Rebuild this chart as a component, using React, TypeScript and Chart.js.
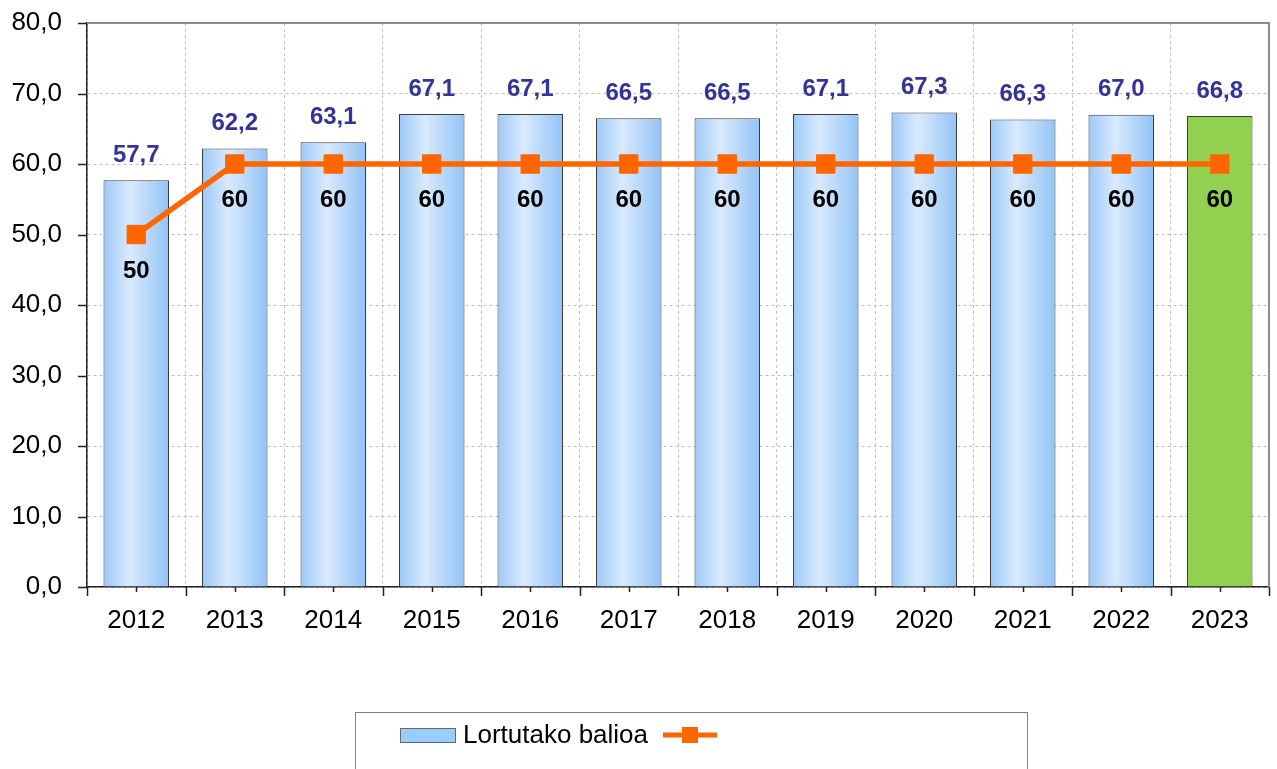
import React, { useEffect, useRef } from 'react';
import { Chart, registerables } from 'chart.js';

Chart.register(...registerables);

const years = ['2012', '2013', '2014', '2015', '2016', '2017', '2018', '2019', '2020', '2021', '2022', '2023'];
const achieved = [57.7, 62.2, 63.1, 67.1, 67.1, 66.5, 66.5, 67.1, 67.3, 66.3, 67.0, 66.8];
const target = [50, 60, 60, 60, 60, 60, 60, 60, 60, 60, 60, 60];
const barLabel = 'Lortutako balioa';
const lineLabel = '';
const yMin = 0;
const yMax = 80;
const yStep = 10;

const FONT = "'Liberation Sans', Arial, sans-serif";
const W = 1277;
const H = 769;
const BAR_FRACTION = 0.665;

const fmt = (v: number) => v.toFixed(1).replace('.', ',');

const decorPlugin = {
  id: 'decor',
  afterDatasetsDraw(chart: any) {
    const { ctx, chartArea: a, scales } = chart;
    const x = scales.x;
    const y = scales.y;
    ctx.save();
    // top & right frame
    ctx.strokeStyle = '#8c8c8c';
    ctx.lineWidth = 2;
    ctx.beginPath();
    ctx.moveTo(a.left, a.top);
    ctx.lineTo(a.right, a.top);
    ctx.lineTo(a.right, a.bottom);
    ctx.stroke();

    // tick marks
    ctx.strokeStyle = '#222';
    ctx.lineWidth = 1.5;
    ctx.beginPath();
    y.ticks.forEach((_t: any, i: number) => {
      const py = Math.round(y.getPixelForTick(i)) + 0.5;
      ctx.moveTo(a.left - 9, py);
      ctx.lineTo(a.left, py);
    });
    const n = years.length;
    const c0 = x.getPixelForValue(0);
    const c1 = x.getPixelForValue(1);
    const half = (c1 - c0) / 2;
    for (let i = 0; i < n; i++) {
      const cx = Math.round(x.getPixelForValue(i)) + 0.5;
      ctx.moveTo(cx, a.bottom);
      ctx.lineTo(cx, a.bottom + 5);
    }
    for (let i = 0; i <= n; i++) {
      const bx = Math.round(c0 - half + i * 2 * half) + 0.5;
      ctx.moveTo(bx, a.bottom);
      ctx.lineTo(bx, a.bottom + 9);
    }
    ctx.stroke();

    // data labels
    const barMeta = chart.getDatasetMeta(1);
    const lineMeta = chart.getDatasetMeta(0);
    ctx.textAlign = 'center';
    ctx.textBaseline = 'middle';
    ctx.font = `bold 24px ${FONT}`;
    ctx.fillStyle = '#333399';
    barMeta.data.forEach((el: any, i: number) => {
      ctx.fillText(fmt(achieved[i]), el.x, el.y - 25);
    });
    ctx.fillStyle = '#000000';
    lineMeta.data.forEach((el: any, i: number) => {
      ctx.fillText(String(target[i]), el.x, el.y + 36.5);
    });
    ctx.restore();
  },
  afterDraw(chart: any) {
    const { ctx } = chart;
    ctx.save();
    // legend box
    ctx.strokeStyle = '#808080';
    ctx.lineWidth = 1;
    ctx.strokeRect(355.5, 712.5, 672, 80);
    // bar swatch
    ctx.fillStyle = '#99ccff';
    ctx.fillRect(400, 728, 56, 15);
    ctx.strokeStyle = '#666';
    ctx.strokeRect(400.5, 728.5, 55, 14);
    ctx.fillStyle = '#000';
    ctx.font = `26px ${FONT}`;
    ctx.textAlign = 'left';
    ctx.textBaseline = 'middle';
    ctx.fillText(barLabel, 463, 736);
    // line swatch
    ctx.strokeStyle = '#ff6600';
    ctx.lineWidth = 5;
    ctx.beginPath();
    ctx.moveTo(663, 735);
    ctx.lineTo(717, 735);
    ctx.stroke();
    ctx.fillStyle = '#ff6600';
    ctx.fillRect(682, 727, 16, 16);
    if (lineLabel) ctx.fillText(lineLabel, 725, 736);
    ctx.restore();
  },
};

export default function App() {
  const ref = useRef<HTMLCanvasElement | null>(null);

  useEffect(() => {
    document.body.style.margin = '0';
    const canvas = ref.current;
    if (!canvas) return;
    const chart = new Chart(canvas, {
      type: 'bar',
      data: {
        labels: years,
        datasets: [
          {
            type: 'line',
            label: lineLabel,
            data: target,
            borderColor: '#ff6600',
            backgroundColor: '#ff6600',
            borderWidth: 5.5,
            pointStyle: 'rect',
            pointRadius: 13,
            pointBorderWidth: 1,
            pointBorderColor: '#ff6600',
            pointBackgroundColor: '#ff6600',
            tension: 0,
            order: 0,
          } as any,
          {
            type: 'bar',
            label: barLabel,
            data: achieved,
            order: 1,
            borderColor: '#3c3c3c',
            borderWidth: 1,
            categoryPercentage: 1,
            barPercentage: BAR_FRACTION,
            backgroundColor: (c: any) => {
              const chart = c.chart;
              if (c.dataIndex === years.length - 1) return '#92d050';
              const xs = chart.scales && chart.scales.x;
              if (!xs || !chart.chartArea || c.dataIndex === undefined) return '#a8d0fa';
              const cx = xs.getPixelForValue(c.dataIndex);
              const hw = ((xs.width / years.length) * BAR_FRACTION) / 2;
              const g = chart.ctx.createLinearGradient(cx - hw, 0, cx + hw, 0);
              g.addColorStop(0, '#9cc9f8');
              g.addColorStop(0.4, '#d9eafd');
              g.addColorStop(1, '#92c3f6');
              return g;
            },
          } as any,
        ],
      },
      options: {
        responsive: false,
        animation: false,
        devicePixelRatio: 1,
        layout: { autoPadding: false, padding: { left: 0, top: 23, right: 8, bottom: 0 } },
        plugins: {
          legend: { display: false },
          tooltip: { enabled: false },
        },
        scales: {
          x: {
            offset: true,
            grid: {
              offset: true,
              color: '#bfbfbf',
              lineWidth: 1,
              drawTicks: false,
            },
            border: { display: true, color: '#222', width: 1.5, dash: [3, 3] },
            ticks: {
              color: '#000',
              font: { family: FONT, size: 26 },
              padding: 18,
              maxRotation: 0,
              autoSkip: false,
            },
            afterFit: (s: any) => {
              s.height = H - 587;
            },
          },
          y: {
            min: yMin,
            max: yMax,
            grid: {
              color: '#bfbfbf',
              lineWidth: 1,
              drawTicks: true,
              tickLength: 25,
              tickColor: 'rgba(0,0,0,0)',
            },
            border: { display: true, color: '#222', width: 1.5, dash: [3, 3] },
            ticks: {
              stepSize: yStep,
              color: '#000',
              font: { family: FONT, size: 26 },
              padding: 0,
              callback: (v: any) => fmt(Number(v)),
            },
            afterFit: (s: any) => {
              s.width = 87;
            },
          },
        },
      } as any,
      plugins: [decorPlugin],
    });
    return () => chart.destroy();
  }, []);

  return (
    <div style={{ position: 'fixed', left: 0, top: 0, width: W, height: H, background: '#fff' }}>
      <canvas ref={ref} width={W} height={H} style={{ width: W, height: H, display: 'block' }} />
    </div>
  );
}
